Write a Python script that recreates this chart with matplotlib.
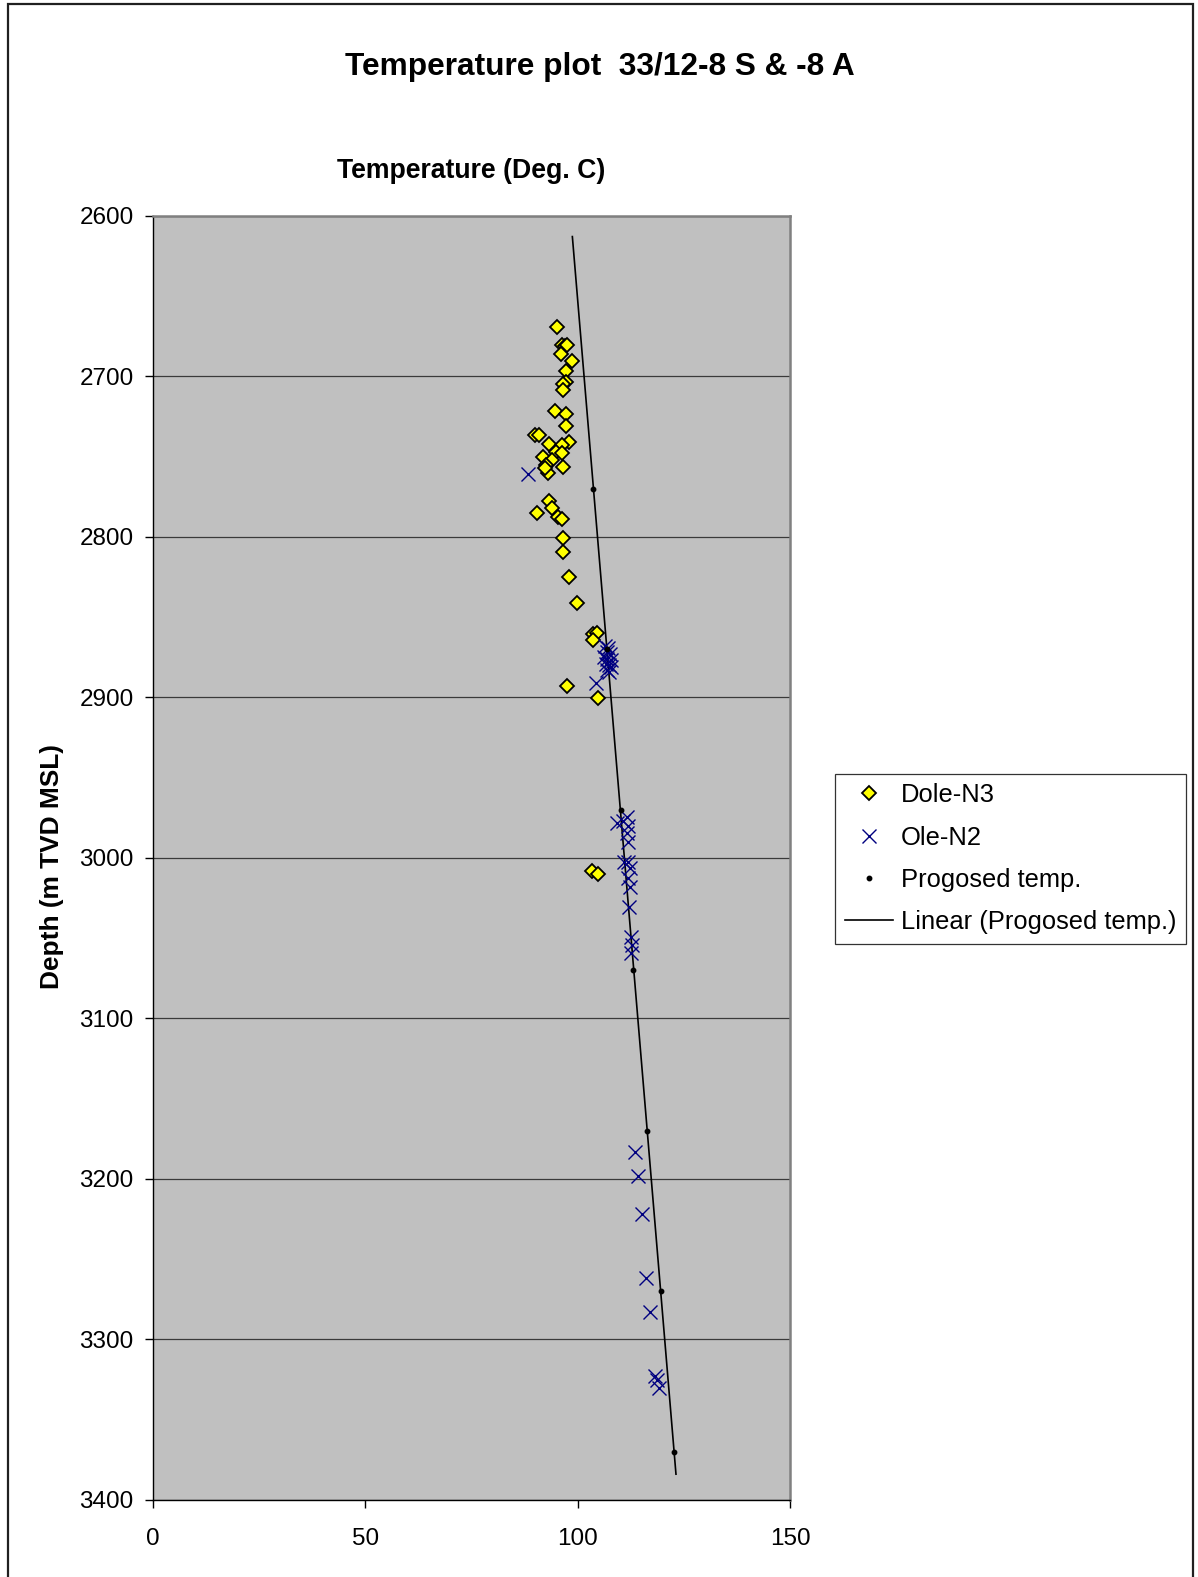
import matplotlib
matplotlib.use("Agg")
import matplotlib.pyplot as plt
import numpy as np
from matplotlib.patches import Rectangle

plt.rcParams['font.family'] = ['Liberation Sans', 'DejaVu Sans']

# Dole-N3 measurements (temperature degC, depth m TVD MSL)
dole_temp = [95.2, 96.4, 97.1, 97.6, 96.1, 98.6, 97.2, 97.2, 96.6, 96.6,
             94.7, 97.2, 97.2, 89.9, 90.9, 93.3, 98.0, 96.2, 94.8, 96.3,
             91.8, 93.9, 92.5, 96.6, 92.9, 92.3, 93.3, 93.9, 90.5, 95.3,
             96.2, 96.6, 96.6, 98.0, 99.9, 103.7, 104.6, 103.7, 97.6, 104.7,
             103.3, 104.7]
dole_depth = [2669.5, 2680.5, 2681.0, 2680.5, 2686.0, 2690.7, 2696.7, 2703.6, 2705.0, 2708.6,
              2721.6, 2723.3, 2730.8, 2736.6, 2736.8, 2742.2, 2740.8, 2742.8, 2747.0, 2747.6,
              2750.1, 2752.2, 2755.3, 2756.7, 2760.5, 2757.4, 2777.5, 2781.9, 2785.4, 2787.5,
              2789.1, 2800.6, 2809.3, 2825.2, 2841.4, 2860.4, 2859.7, 2864.1, 2892.8, 2900.2,
              3008.2, 3010.1]

# Ole-N2 measurements
ole_temp = [88.2,
            106.5, 107.2, 106.8, 107.5, 106.3, 107.0, 107.8, 106.6, 107.3, 107.9, 106.9, 107.4,
            104.3,
            109.2, 110.7, 111.5, 111.9, 111.5, 111.9, 110.9, 111.9, 112.3, 111.9, 112.3, 112.1,
            112.5, 112.7, 112.5,
            113.6, 114.1, 115.1, 116.0, 117.0, 118.2, 118.7, 119.2]
ole_depth = [2760.9,
             2868.0, 2869.0, 2872.0, 2873.0, 2875.0, 2876.0, 2877.0, 2879.0, 2880.0, 2881.0, 2883.0, 2884.0,
             2890.9,
             2978.5, 2976.9, 2974.4, 2980.2, 2984.7, 2989.9, 3002.4, 3002.4, 3006.5, 3012.7, 3017.9, 3030.8,
             3049.1, 3054.3, 3059.4,
             3183.4, 3198.2, 3221.8, 3261.7, 3282.9, 3322.7, 3325.2, 3330.4]

# Prognosed temperature profile
prog_temp = [103.6, 107.0, 110.2, 113.1, 116.3, 119.6, 122.7]
prog_depth = [2770, 2870, 2970, 3070, 3170, 3270, 3370]

# Trendline forecast (degC) backward / forward
forecast_back = 4.85
forecast_fwd = 0.45

x_ticks = [0, 50, 100, 150]
y_ticks = [2600, 2700, 2800, 2900, 3000, 3100, 3200, 3300, 3400]

W, H = 1198, 1577
fig = plt.figure(figsize=(W / 100, H / 100), dpi=100)
fig.patch.set_facecolor('white')

# outer chart border
fig.add_artist(Rectangle((8 / W, -0.02), (1193 - 8) / W, 1.02 - 4 / H,
                         transform=fig.transFigure, fill=False,
                         edgecolor='#202020', linewidth=1.6))

left, right, top, bottom = 153, 790, 215.7, 1500
ax = fig.add_axes([left / W, 1 - bottom / H, (right - left) / W, (bottom - top) / H])
ax.set_facecolor('#C0C0C0')

ax.set_xlim(0, 150)
ax.set_ylim(3400, 2600)
ax.set_xticks(x_ticks)
ax.set_yticks(y_ticks)
ax.yaxis.grid(True, color='#3a3a3a', linewidth=0.9)
ax.set_axisbelow(True)

for side in ['top', 'right']:
    ax.spines[side].set_color('#808080')
    ax.spines[side].set_linewidth(1.8)
for side in ['left', 'bottom']:
    ax.spines[side].set_color('black')
    ax.spines[side].set_linewidth(1.0)

ax.tick_params(axis='both', direction='out', length=6, width=1.0, labelsize=17.5)
ax.tick_params(axis='x', pad=14.5)
ax.tick_params(axis='y', pad=8)

# linear fit of depth on temperature (trendline)
coef = np.polyfit(prog_temp, prog_depth, 1)
t_line = np.array([min(prog_temp) - forecast_back, max(prog_temp) + forecast_fwd])
ax.plot(t_line, np.polyval(coef, t_line), color='black', linewidth=1.2, zorder=2,
        label='Linear (Progosed temp.)')

ax.plot(dole_temp, dole_depth, linestyle='none', marker='D', markersize=7.2,
        markerfacecolor='#FFFF00', markeredgecolor='black', markeredgewidth=1.3,
        zorder=3, label='Dole-N3')
ax.plot(ole_temp, ole_depth, linestyle='none', marker='x', markersize=9.5,
        color='#000080', markeredgewidth=1.0, zorder=4, label='Ole-N2')
ax.plot(prog_temp, prog_depth, linestyle='none', marker='o', markersize=3.2,
        color='black', zorder=5, label='Progosed temp.')

ax.set_xlabel('Temperature (Deg. C)', fontsize=19.2, fontweight='bold', labelpad=0)
ax.xaxis.set_label_position('top')
ax.xaxis.set_label_coords(0.5, 1 + (top - 171) / (bottom - top), transform=ax.transAxes)
ax.xaxis.label.set_verticalalignment('center')

ax.set_ylabel('Depth (m TVD MSL)', fontsize=18.9, fontweight='bold')
ax.yaxis.set_label_coords(-(left - 52) / (right - left), 1 - (866.5 - top) / (bottom - top))
ax.yaxis.label.set_verticalalignment('center')

fig.text(600 / W, 1 - 67 / H, 'Temperature plot  33/12-8 S & -8 A',
         ha='center', va='center', fontsize=22.8, fontweight='bold')

handles, labels = ax.get_legend_handles_labels()
order = [1, 2, 3, 0]
leg = fig.legend([handles[i] for i in order], [labels[i] for i in order],
                 loc='upper left', bbox_to_anchor=(835 / W, 1 - 773.5 / H),
                 borderaxespad=0, fontsize=18.4, frameon=True, fancybox=False,
                 edgecolor='black', borderpad=0.38, labelspacing=0.72,
                 handlelength=1.9, handletextpad=0.3, markerscale=1.0)
leg.get_frame().set_linewidth(0.9)

fig.savefig('out.png', dpi=100)
